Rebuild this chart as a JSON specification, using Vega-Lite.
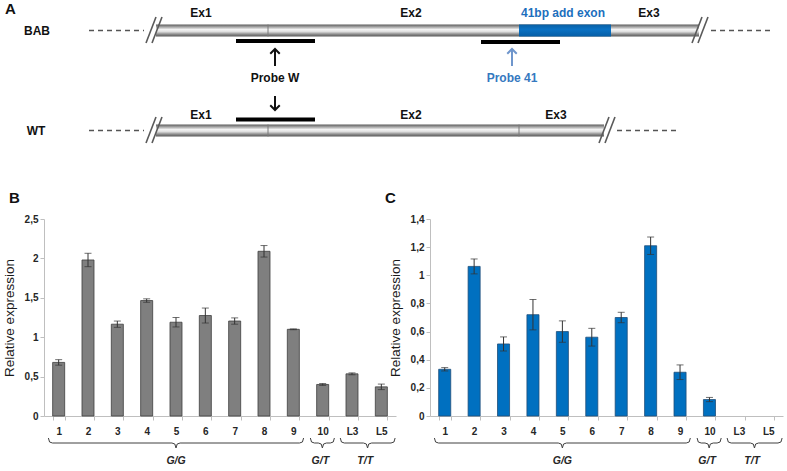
{
  "$schema": "https://vega.github.io/schema/vega-lite/v6.json",
  "padding": {"left": 2, "top": 0, "right": 0, "bottom": 0},
  "config": {
    "font": "Liberation Sans",
    "view": {"stroke": null},
    "axis": {
      "domainColor": "#bfbfbf", "tickColor": "#bfbfbf", "tickSize": 4, "grid": false,
      "labelFontWeight": "bold", "labelFontSize": 10, "labelColor": "#262626",
      "titleFontWeight": "normal", "titleFontSize": 13.5, "titleColor": "#1a1a1a"
    }
  },
  "datasets": {
    "expr": [
      {"panel": "B", "sample": "1", "value": 0.68, "err": 0.035},
      {"panel": "B", "sample": "2", "value": 1.98, "err": 0.085},
      {"panel": "B", "sample": "3", "value": 1.165, "err": 0.04},
      {"panel": "B", "sample": "4", "value": 1.465, "err": 0.022},
      {"panel": "B", "sample": "5", "value": 1.19, "err": 0.06},
      {"panel": "B", "sample": "6", "value": 1.275, "err": 0.095},
      {"panel": "B", "sample": "7", "value": 1.205, "err": 0.04},
      {"panel": "B", "sample": "8", "value": 2.09, "err": 0.073},
      {"panel": "B", "sample": "9", "value": 1.10, "err": 0.005},
      {"panel": "B", "sample": "10", "value": 0.40, "err": 0.012},
      {"panel": "B", "sample": "L3", "value": 0.535, "err": 0.012},
      {"panel": "B", "sample": "L5", "value": 0.37, "err": 0.035},
      {"panel": "C", "sample": "1", "value": 0.332, "err": 0.012},
      {"panel": "C", "sample": "2", "value": 1.063, "err": 0.053},
      {"panel": "C", "sample": "3", "value": 0.512, "err": 0.05},
      {"panel": "C", "sample": "4", "value": 0.72, "err": 0.108},
      {"panel": "C", "sample": "5", "value": 0.60, "err": 0.076},
      {"panel": "C", "sample": "6", "value": 0.56, "err": 0.063},
      {"panel": "C", "sample": "7", "value": 0.70, "err": 0.037},
      {"panel": "C", "sample": "8", "value": 1.21, "err": 0.062},
      {"panel": "C", "sample": "9", "value": 0.311, "err": 0.052},
      {"panel": "C", "sample": "10", "value": 0.117, "err": 0.015}
    ],
    "braces": [
      {"grp": "G/G", "i": 0, "pos": 0.15, "depth": 22}, {"grp": "G/G", "i": 1, "pos": 0.19, "depth": 26},
      {"grp": "G/G", "i": 2, "pos": 0.29, "depth": 27}, {"grp": "G/G", "i": 3, "pos": 4.36, "depth": 27},
      {"grp": "G/G", "i": 4, "pos": 4.46, "depth": 28}, {"grp": "G/G", "i": 5, "pos": 4.5, "depth": 32},
      {"grp": "G/G", "i": 6, "pos": 4.54, "depth": 28}, {"grp": "G/G", "i": 7, "pos": 4.64, "depth": 27},
      {"grp": "G/G", "i": 8, "pos": 8.71, "depth": 27}, {"grp": "G/G", "i": 9, "pos": 8.81, "depth": 26},
      {"grp": "G/G", "i": 10, "pos": 8.85, "depth": 22},
      {"grp": "G/T", "i": 0, "pos": 9.08, "depth": 22}, {"grp": "G/T", "i": 1, "pos": 9.12, "depth": 26},
      {"grp": "G/T", "i": 2, "pos": 9.22, "depth": 27}, {"grp": "G/T", "i": 3, "pos": 9.35, "depth": 27},
      {"grp": "G/T", "i": 4, "pos": 9.45, "depth": 28}, {"grp": "G/T", "i": 5, "pos": 9.49, "depth": 32},
      {"grp": "G/T", "i": 6, "pos": 9.53, "depth": 28}, {"grp": "G/T", "i": 7, "pos": 9.63, "depth": 27},
      {"grp": "G/T", "i": 8, "pos": 9.76, "depth": 27}, {"grp": "G/T", "i": 9, "pos": 9.86, "depth": 26},
      {"grp": "G/T", "i": 10, "pos": 9.9, "depth": 22},
      {"grp": "T/T", "i": 0, "pos": 10.1, "depth": 22}, {"grp": "T/T", "i": 1, "pos": 10.14, "depth": 26},
      {"grp": "T/T", "i": 2, "pos": 10.24, "depth": 27}, {"grp": "T/T", "i": 3, "pos": 10.89, "depth": 27},
      {"grp": "T/T", "i": 4, "pos": 10.99, "depth": 28}, {"grp": "T/T", "i": 5, "pos": 11.03, "depth": 32},
      {"grp": "T/T", "i": 6, "pos": 11.07, "depth": 28}, {"grp": "T/T", "i": 7, "pos": 11.17, "depth": 27},
      {"grp": "T/T", "i": 8, "pos": 11.83, "depth": 27}, {"grp": "T/T", "i": 9, "pos": 11.93, "depth": 26},
      {"grp": "T/T", "i": 10, "pos": 11.97, "depth": 22}
    ],
    "groups": [
      {"grp": "G/G", "pos": 4.5, "depth": 45},
      {"grp": "G/T", "pos": 9.42, "depth": 45},
      {"grp": "T/T", "pos": 10.95, "depth": 45}
    ],
    "dashes": [
      {"x": 88, "x2": 143, "y": 30.5}, {"x": 710, "x2": 773, "y": 30.5},
      {"x": 88, "x2": 143, "y": 130.5}, {"x": 616, "x2": 678, "y": 130.5}
    ],
    "genes": [
      {"row": "BAB", "x": 155, "x2": 698, "y": 24.5, "y2": 36.5},
      {"row": "WT", "x": 155, "x2": 603, "y": 124.5, "y2": 136.5}
    ],
    "addexon": [
      {"row": "BAB", "x": 518, "x2": 610, "y": 24.5, "y2": 36.5}
    ],
    "junctions": [
      {"x": 267, "y": 24.5, "y2": 36.5}, {"x": 267, "y": 124.5, "y2": 136.5}, {"x": 518, "y": 124.5, "y2": 136.5}
    ],
    "breaks": [
      {"x": 145, "y": 43, "x2": 155, "y2": 17}, {"x": 151, "y": 43, "x2": 161, "y2": 17},
      {"x": 691, "y": 43, "x2": 701, "y2": 17}, {"x": 697, "y": 43, "x2": 707, "y2": 17},
      {"x": 145, "y": 143, "x2": 155, "y2": 117}, {"x": 151, "y": 143, "x2": 161, "y2": 117},
      {"x": 598, "y": 143, "x2": 608, "y2": 117}, {"x": 604, "y": 143, "x2": 614, "y2": 117}
    ],
    "probes": [
      {"probe": "W", "x": 235, "x2": 314, "y": 41},
      {"probe": "41", "x": 480, "x2": 559, "y": 42},
      {"probe": "W", "x": 235, "x2": 314, "y": 119.5}
    ],
    "arrows": [
      {"x": 274, "tip": 49, "tail": 66, "dir": "up", "tone": "black"},
      {"x": 274, "tip": 110, "tail": 96, "dir": "down", "tone": "black"},
      {"x": 511, "tip": 49, "tail": 66, "dir": "up", "tone": "arrow41"}
    ],
    "labels": [
      {"label": "BAB", "x": 36, "y": 30.5, "tone": "black"},
      {"label": "WT", "x": 35, "y": 130.5, "tone": "black"},
      {"label": "Ex1", "x": 200, "y": 13, "tone": "black"},
      {"label": "Ex2", "x": 410, "y": 13, "tone": "black"},
      {"label": "41bp add exon", "x": 562, "y": 13, "tone": "exon41"},
      {"label": "Ex3", "x": 648, "y": 13, "tone": "black"},
      {"label": "Probe W", "x": 274, "y": 78, "tone": "black"},
      {"label": "Probe 41", "x": 511, "y": 78, "tone": "probe41"},
      {"label": "Ex1", "x": 200, "y": 115, "tone": "black"},
      {"label": "Ex2", "x": 410, "y": 115, "tone": "black"},
      {"label": "Ex3", "x": 555, "y": 115, "tone": "black"}
    ],
    "panel": [{"label": "A", "x": 4, "y": 9}]
  },
  "spacing": 0,
  "vconcat": [
    {
      "width": 744,
      "height": 191,
      "layer": [
        {
          "data": {"name": "dashes"},
          "mark": {"type": "rule", "color": "#555555", "strokeWidth": 1.5, "strokeDash": [5, 4]},
          "encoding": {
            "x": {"field": "x", "type": "quantitative", "scale": {"domain": [43, 787], "nice": false, "zero": false}, "axis": null},
            "x2": {"field": "x2"},
            "y": {"field": "y", "type": "quantitative", "scale": {"domain": [0, 191], "reverse": true, "nice": false, "zero": false}, "axis": null}
          }
        },
        {
          "data": {"name": "genes"},
          "mark": {"type": "rect", "fill": {"gradient": "linear", "x1": 0, "y1": 0, "x2": 0, "y2": 1, "stops": [
            {"offset": 0, "color": "#5c5c5c"}, {"offset": 0.18, "color": "#9c9c9c"}, {"offset": 0.42, "color": "#f4f4f4"},
            {"offset": 0.6, "color": "#dedede"}, {"offset": 0.8, "color": "#909090"}, {"offset": 1, "color": "#585858"}]}},
          "encoding": {
            "x": {"field": "x", "type": "quantitative", "scale": {"domain": [43, 787], "nice": false, "zero": false}, "axis": null},
            "x2": {"field": "x2"},
            "y": {"field": "y", "type": "quantitative", "scale": {"domain": [0, 191], "reverse": true, "nice": false, "zero": false}, "axis": null},
            "y2": {"field": "y2"}
          }
        },
        {
          "data": {"name": "addexon"},
          "mark": {"type": "rect", "fill": {"gradient": "linear", "x1": 0, "y1": 0, "x2": 0, "y2": 1, "stops": [
            {"offset": 0, "color": "#0a5fa3"}, {"offset": 0.4, "color": "#0a72c4"}, {"offset": 1, "color": "#065ea6"}]}},
          "encoding": {
            "x": {"field": "x", "type": "quantitative", "scale": {"domain": [43, 787], "nice": false, "zero": false}, "axis": null},
            "x2": {"field": "x2"},
            "y": {"field": "y", "type": "quantitative", "scale": {"domain": [0, 191], "reverse": true, "nice": false, "zero": false}, "axis": null},
            "y2": {"field": "y2"}
          }
        },
        {
          "data": {"name": "junctions"},
          "mark": {"type": "rule", "color": "#7a7a7a", "strokeWidth": 1},
          "encoding": {
            "x": {"field": "x", "type": "quantitative", "scale": {"domain": [43, 787], "nice": false, "zero": false}, "axis": null},
            "y": {"field": "y", "type": "quantitative", "scale": {"domain": [0, 191], "reverse": true, "nice": false, "zero": false}, "axis": null},
            "y2": {"field": "y2"}
          }
        },
        {
          "data": {"name": "breaks"},
          "mark": {"type": "rule", "color": "#5a5a5a", "strokeWidth": 1.6},
          "encoding": {
            "x": {"field": "x", "type": "quantitative", "scale": {"domain": [43, 787], "nice": false, "zero": false}, "axis": null},
            "x2": {"field": "x2"},
            "y": {"field": "y", "type": "quantitative", "scale": {"domain": [0, 191], "reverse": true, "nice": false, "zero": false}, "axis": null},
            "y2": {"field": "y2"}
          }
        },
        {
          "data": {"name": "probes"},
          "mark": {"type": "rule", "color": "#000000", "strokeWidth": 4},
          "encoding": {
            "x": {"field": "x", "type": "quantitative", "scale": {"domain": [43, 787], "nice": false, "zero": false}, "axis": null},
            "x2": {"field": "x2"},
            "y": {"field": "y", "type": "quantitative", "scale": {"domain": [0, 191], "reverse": true, "nice": false, "zero": false}, "axis": null}
          }
        },
        {
          "data": {"name": "arrows"},
          "mark": {"type": "rule", "strokeWidth": 2},
          "encoding": {
            "x": {"field": "x", "type": "quantitative", "scale": {"domain": [43, 787], "nice": false, "zero": false}, "axis": null},
            "y": {"field": "tip", "type": "quantitative", "scale": {"domain": [0, 191], "reverse": true, "nice": false, "zero": false}, "axis": null},
            "y2": {"field": "tail"},
            "color": {"field": "tone", "type": "nominal", "scale": {"domain": ["black", "exon41", "probe41", "arrow41"], "range": ["#111111", "#1c6fbd", "#3579bf", "#6f96cc"]}, "legend": null}
          }
        },
        {
          "data": {"name": "arrows"},
          "mark": {"type": "point", "filled": false, "strokeWidth": 2, "size": 90, "opacity": 1},
          "encoding": {
            "x": {"field": "x", "type": "quantitative", "scale": {"domain": [43, 787], "nice": false, "zero": false}, "axis": null},
            "y": {"field": "tip", "type": "quantitative", "scale": {"domain": [0, 191], "reverse": true, "nice": false, "zero": false}, "axis": null},
            "shape": {"field": "dir", "type": "nominal", "scale": {"domain": ["up", "down"], "range": ["M-1,1L0,0L1,1", "M-1,-1L0,0L1,-1"]}, "legend": null},
            "color": {"field": "tone", "type": "nominal", "scale": {"domain": ["black", "exon41", "probe41", "arrow41"], "range": ["#111111", "#1c6fbd", "#3579bf", "#6f96cc"]}, "legend": null}
          }
        },
        {
          "data": {"name": "labels"},
          "mark": {"type": "text", "fontWeight": "bold", "fontSize": 12, "baseline": "middle", "align": "center"},
          "encoding": {
            "x": {"field": "x", "type": "quantitative", "scale": {"domain": [43, 787], "nice": false, "zero": false}, "axis": null},
            "y": {"field": "y", "type": "quantitative", "scale": {"domain": [0, 191], "reverse": true, "nice": false, "zero": false}, "axis": null},
            "text": {"field": "label"},
            "color": {"field": "tone", "type": "nominal", "scale": {"domain": ["black", "exon41", "probe41", "arrow41"], "range": ["#111111", "#1c6fbd", "#3579bf", "#6f96cc"]}, "legend": null}
          }
        },
        {
          "data": {"name": "panel"},
          "mark": {"type": "text", "fontWeight": "bold", "fontSize": 15, "baseline": "middle", "align": "left", "color": "#111111"},
          "encoding": {
            "x": {"field": "x", "type": "quantitative", "scale": {"domain": [43, 787], "nice": false, "zero": false}, "axis": null},
            "y": {"field": "y", "type": "quantitative", "scale": {"domain": [0, 191], "reverse": true, "nice": false, "zero": false}, "axis": null},
            "text": {"field": "label"}
          }
        }
      ]
    },
    {
      "hconcat": [
        {
          "width": 352,
          "height": 197,
          "title": {"text": "B", "anchor": "start", "frame": "group", "fontSize": 15, "fontWeight": "bold", "color": "#111111", "dx": -35, "offset": 8},
          "layer": [
            {
              "data": {"name": "expr"},
              "transform": [{"filter": "datum.panel === 'B'"}],
              "layer": [
                {
                  "mark": {"type": "bar", "fill": "#7f7f7f", "stroke": "#3f3f3f", "strokeWidth": 0.8},
                  "encoding": {
                    "x": {"field": "sample", "type": "nominal", "sort": null,
                      "scale": {"domain": ["1","2","3","4","5","6","7","8","9","10","L3","L5"], "paddingInner": 0.59, "paddingOuter": 0.295},
                      "axis": {"title": null, "labelAngle": 0, "tickBand": "extent", "labelPadding": 6}},
                    "y": {"field": "value", "type": "quantitative", "scale": {"domain": [0, 2.5], "nice": false},
                      "axis": {"title": "Relative expression", "values": [0, 0.5, 1, 1.5, 2, 2.5], "labelExpr": "replace(toString(datum.value), '.', ',')", "labelPadding": 2, "titlePadding": 4, "minExtent": 24, "maxExtent": 24}}
                  }
                },
                {
                  "mark": {"type": "errorbar", "ticks": {"size": 7, "thickness": 1, "color": "#333333"}, "rule": {"color": "#333333", "strokeWidth": 1}},
                  "encoding": {
                    "x": {"field": "sample", "type": "nominal", "sort": null,
                      "scale": {"domain": ["1","2","3","4","5","6","7","8","9","10","L3","L5"], "paddingInner": 0.59, "paddingOuter": 0.295},
                      "axis": {"title": null, "labelAngle": 0, "tickBand": "extent", "labelPadding": 6}},
                    "y": {"field": "value", "type": "quantitative", "scale": {"domain": [0, 2.5], "nice": false},
                      "axis": {"title": "Relative expression", "values": [0, 0.5, 1, 1.5, 2, 2.5], "labelExpr": "replace(toString(datum.value), '.', ',')", "labelPadding": 2, "titlePadding": 4, "minExtent": 24, "maxExtent": 24}},
                    "yError": {"field": "err"}
                  }
                }
              ]
            },
            {
              "data": {"name": "braces"},
              "mark": {"type": "line", "color": "#404040", "strokeWidth": 1},
              "encoding": {
                "x": {"field": "pos", "type": "quantitative", "scale": {"domain": [0, 12], "nice": false, "zero": false}, "axis": null},
                "y": {"field": "depth", "type": "quantitative", "scale": {"domain": [0, -197], "nice": false, "zero": false}, "axis": null},
                "detail": {"field": "grp"},
                "order": {"field": "i", "type": "quantitative"}
              }
            },
            {
              "data": {"name": "groups"},
              "mark": {"type": "text", "fontWeight": "bold", "fontStyle": "italic", "fontSize": 10.5, "color": "#262626", "baseline": "middle"},
              "encoding": {
                "x": {"field": "pos", "type": "quantitative", "scale": {"domain": [0, 12], "nice": false, "zero": false}, "axis": null},
                "y": {"field": "depth", "type": "quantitative", "scale": {"domain": [0, -197], "nice": false, "zero": false}, "axis": null},
                "text": {"field": "grp"}
              }
            }
          ],
          "resolve": {"scale": {"x": "independent", "y": "independent"}}
        },
        {
          "width": 353,
          "height": 197,
          "title": {"text": "C", "anchor": "start", "frame": "group", "fontSize": 15, "fontWeight": "bold", "color": "#111111", "dx": -45, "offset": 8},
          "layer": [
            {
              "data": {"name": "expr"},
              "transform": [{"filter": "datum.panel === 'C'"}],
              "layer": [
                {
                  "mark": {"type": "bar", "fill": "#0070c0", "stroke": "#1f4e79", "strokeWidth": 0.8},
                  "encoding": {
                    "x": {"field": "sample", "type": "nominal", "sort": null,
                      "scale": {"domain": ["1","2","3","4","5","6","7","8","9","10","L3","L5"], "paddingInner": 0.59, "paddingOuter": 0.295},
                      "axis": {"title": null, "labelAngle": 0, "tickBand": "extent", "labelPadding": 6}},
                    "y": {"field": "value", "type": "quantitative", "scale": {"domain": [0, 1.4], "nice": false},
                      "axis": {"title": "Relative expression", "values": [0, 0.2, 0.4, 0.6, 0.8, 1, 1.2, 1.4], "labelExpr": "replace(toString(datum.value), '.', ',')", "labelPadding": 2, "titlePadding": 4, "minExtent": 24, "maxExtent": 24}}
                  }
                },
                {
                  "mark": {"type": "errorbar", "ticks": {"size": 7, "thickness": 1, "color": "#333333"}, "rule": {"color": "#333333", "strokeWidth": 1}},
                  "encoding": {
                    "x": {"field": "sample", "type": "nominal", "sort": null,
                      "scale": {"domain": ["1","2","3","4","5","6","7","8","9","10","L3","L5"], "paddingInner": 0.59, "paddingOuter": 0.295},
                      "axis": {"title": null, "labelAngle": 0, "tickBand": "extent", "labelPadding": 6}},
                    "y": {"field": "value", "type": "quantitative", "scale": {"domain": [0, 1.4], "nice": false},
                      "axis": {"title": "Relative expression", "values": [0, 0.2, 0.4, 0.6, 0.8, 1, 1.2, 1.4], "labelExpr": "replace(toString(datum.value), '.', ',')", "labelPadding": 2, "titlePadding": 4, "minExtent": 24, "maxExtent": 24}},
                    "yError": {"field": "err"}
                  }
                }
              ]
            },
            {
              "data": {"name": "braces"},
              "mark": {"type": "line", "color": "#404040", "strokeWidth": 1},
              "encoding": {
                "x": {"field": "pos", "type": "quantitative", "scale": {"domain": [0, 12], "nice": false, "zero": false}, "axis": null},
                "y": {"field": "depth", "type": "quantitative", "scale": {"domain": [0, -197], "nice": false, "zero": false}, "axis": null},
                "detail": {"field": "grp"},
                "order": {"field": "i", "type": "quantitative"}
              }
            },
            {
              "data": {"name": "groups"},
              "mark": {"type": "text", "fontWeight": "bold", "fontStyle": "italic", "fontSize": 10.5, "color": "#262626", "baseline": "middle"},
              "encoding": {
                "x": {"field": "pos", "type": "quantitative", "scale": {"domain": [0, 12], "nice": false, "zero": false}, "axis": null},
                "y": {"field": "depth", "type": "quantitative", "scale": {"domain": [0, -197], "nice": false, "zero": false}, "axis": null},
                "text": {"field": "grp"}
              }
            }
          ],
          "resolve": {"scale": {"x": "independent", "y": "independent"}}
        }
      ],
      "spacing": 34,
      "bounds": "flush"
    }
  ]
}
